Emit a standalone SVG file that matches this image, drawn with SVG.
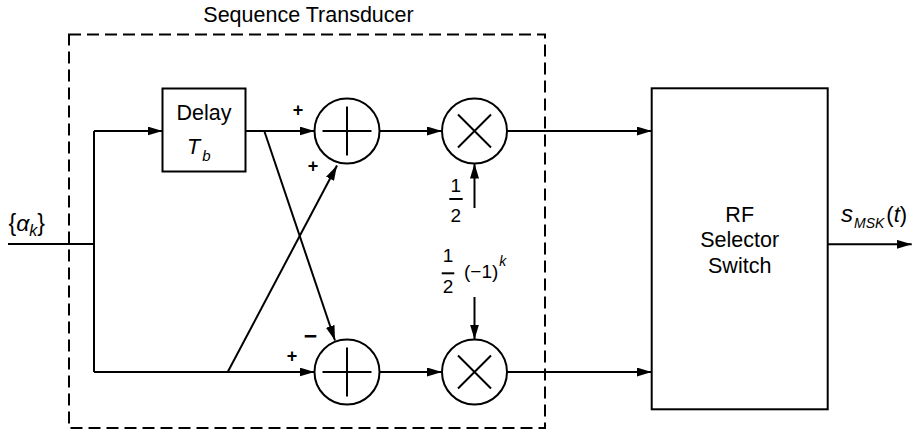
<svg xmlns="http://www.w3.org/2000/svg" width="917" height="433" viewBox="0 0 917 433">
<defs>
<marker id="arr" markerUnits="userSpaceOnUse" markerWidth="16" markerHeight="10" refX="15" refY="4.5" orient="auto">
<path d="M0,0 L15,4.5 L0,9 z" fill="#000"/>
</marker>
</defs>
<style>
text{font-family:"Liberation Sans",Arial,sans-serif;fill:#000}
.t{font-size:21.5px}
.f{font-size:19px}
.sg{font-size:18px;font-weight:bold}
.it{font-style:italic}
.box{fill:#fff;stroke:#000;stroke-width:2}
.ln{fill:none;stroke:#000;stroke-width:2}
.ar{fill:none;stroke:#000;stroke-width:2;marker-end:url(#arr)}
.dash{fill:none;stroke:#000;stroke-width:2;stroke-dasharray:12 6}
</style>
<rect fill="#fff" width="917" height="433"/>
<g id="transducer">
<rect class="dash" x="69" y="34.5" width="476" height="393.5"/>
<text class="t" x="308.5" y="22" text-anchor="middle">Sequence Transducer</text>
</g>
<g id="connectors">
<path class="ln" d="M8,244 H94 M94,131 V372"/>
<path class="ar" d="M94,131 H162.5"/>
<path class="ar" d="M94,372 H314.5"/>
<path class="ar" d="M245.5,131 H314.5"/>
<path class="ar" d="M264.3,131 L335,340.5"/>
<path class="ar" d="M227.7,372 L337,165.5"/>
<path class="ar" d="M379.5,131 H442"/>
<path class="ar" d="M379.5,372 H442"/>
<path class="ar" d="M507,131 H651.7"/>
<path class="ar" d="M507,372 H651.7"/>
<path class="ar" d="M827.7,244.3 H911.7"/>
<path class="ar" d="M474.5,208 V163.5"/>
<path class="ar" d="M474.5,297 V339.5"/>
</g>
<g id="input">
<text x="8.5" y="231" font-size="23">{<tspan class="it">α</tspan><tspan class="it" font-size="16" dy="5">k</tspan><tspan dy="-5">}</tspan></text>
</g>
<g id="delay">
<rect class="box" x="162.5" y="88.5" width="83" height="83"/>
<text class="t" x="204" y="120" text-anchor="middle">Delay</text>
<text class="t it" x="187" y="154">T<tspan font-size="15" dx="2" dy="7">b</tspan></text>
</g>
<g id="sum1">
<circle class="box" cx="347" cy="131" r="32.5"/>
<path class="ln" d="M322.5,131 H371.5 M347,106.5 V155.5"/>
<text class="sg" x="298" y="116" text-anchor="middle">+</text>
<text class="sg" x="313" y="172" text-anchor="middle">+</text>
</g>
<g id="sum2">
<circle class="box" cx="347" cy="372" r="32.5"/>
<path class="ln" d="M322.5,372 H371.5 M347,347.5 V396.5"/>
<text class="sg" x="292" y="362" text-anchor="middle">+</text>
<text x="310.5" y="344" text-anchor="middle" font-size="23" font-weight="bold">−</text>
</g>
<g id="mult1">
<circle class="box" cx="474.5" cy="131" r="32.5"/>
<path class="ln" d="M458,114.5 L491,147.5 M491,114.5 L458,147.5"/>
<text class="f" x="455.7" y="191.5" text-anchor="middle">1</text>
<path class="ln" d="M449.3,199 H462.7" stroke-width="1.5"/>
<text class="f" x="455.7" y="221.5" text-anchor="middle">2</text>
</g>
<g id="mult2">
<circle class="box" cx="474.5" cy="372" r="32.5"/>
<path class="ln" d="M458,355.5 L491,388.5 M491,355.5 L458,388.5"/>
<text class="f" x="448" y="262.3" text-anchor="middle">1</text>
<path class="ln" d="M441.7,273.3 H454.3" stroke-width="1.5"/>
<text class="f" x="448" y="292.7" text-anchor="middle">2</text>
<text class="f" x="464" y="278">(−1)<tspan class="it" font-size="14" dx="1" dy="-12">k</tspan></text>
</g>
<g id="rf">
<rect class="box" x="651.7" y="88.3" width="176" height="321"/>
<text class="t" x="739.7" y="221.7" text-anchor="middle">RF</text>
<text class="t" x="739.7" y="247" text-anchor="middle">Selector</text>
<text class="t" x="739.7" y="273.3" text-anchor="middle">Switch</text>
</g>
<g id="output">
<text x="841" y="221.7" font-size="22"><tspan class="it" font-size="24">s</tspan><tspan class="it" font-size="14" dx="1" dy="6">MSK</tspan><tspan dx="2" dy="-6">(<tspan class="it">t</tspan>)</tspan></text>
</g>
</svg>
